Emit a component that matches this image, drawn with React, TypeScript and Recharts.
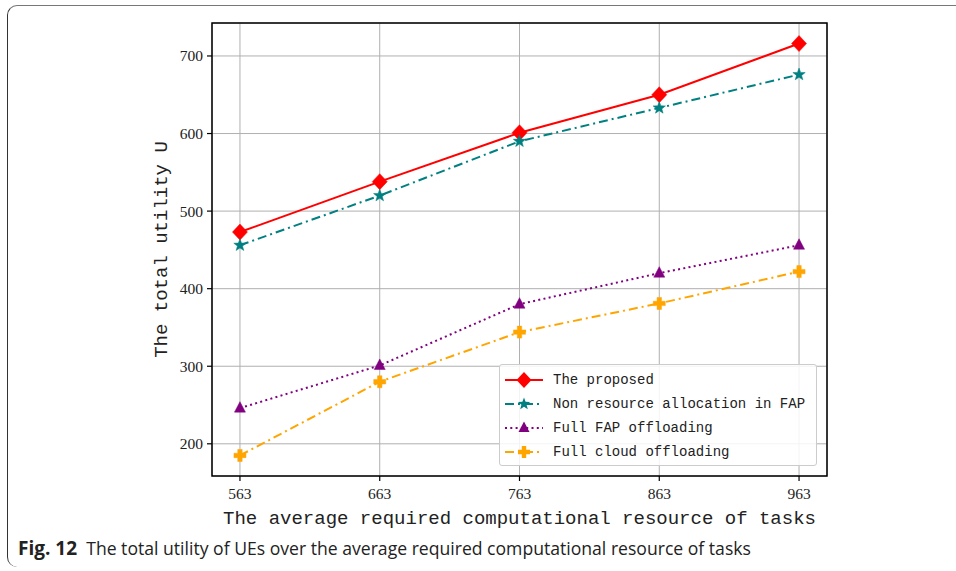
import React from "react";
import {
  LineChart,
  Line,
  XAxis,
  YAxis,
  CartesianGrid,
  Label,
  ReferenceArea,
} from "recharts";

const taskLoads = [563, 663, 763, 863, 963];
const proposed = [473, 538, 601, 650, 716];
const nonResource = [456, 520, 590, 633, 676];
const fullFap = [246, 301, 380, 420, 456];
const fullCloud = [185, 280, 344, 381, 422];
const yTicks = [200, 300, 400, 500, 600, 700];

const data = taskLoads.map((x, i) => ({
  x,
  proposed: proposed[i],
  nonResource: nonResource[i],
  fullFap: fullFap[i],
  fullCloud: fullCloud[i],
}));

const MONO = "'Liberation Mono', 'DejaVu Sans Mono', monospace";
const SERIF = "'Liberation Serif', 'DejaVu Serif', serif";

type Shape = "diamond" | "star" | "triangle" | "plus";

function markerPath(shape: Shape, cx: number, cy: number) {
  if (shape === "diamond") {
    return `M${cx},${cy - 8}L${cx + 7.5},${cy}L${cx},${cy + 8}L${cx - 7.5},${cy}Z`;
  }
  if (shape === "triangle") {
    return `M${cx},${cy - 6.5}L${cx + 5.5},${cy + 4}L${cx - 5.5},${cy + 4}Z`;
  }
  if (shape === "plus") {
    const a = 2.2;
    const b = 6;
    return `M${cx - a},${cy - b}H${cx + a}V${cy - a}H${cx + b}V${cy + a}H${cx + a}V${cy + b}H${cx - a}V${cy + a}H${cx - b}V${cy - a}H${cx - a}Z`;
  }
  // star
  let d = "";
  for (let i = 0; i < 10; i++) {
    const r = i % 2 === 0 ? 6.5 : 2.7;
    const ang = -Math.PI / 2 + (i * Math.PI) / 5;
    d += `${i === 0 ? "M" : "L"}${cx + r * Math.cos(ang)},${cy + r * Math.sin(ang)}`;
  }
  return d + "Z";
}

const series = [
  { key: "proposed", name: "The proposed", color: "#ff0000", dash: undefined, shape: "diamond" as Shape },
  { key: "nonResource", name: "Non resource allocation in FAP", color: "#008080", dash: "9 4 2 4", shape: "star" as Shape },
  { key: "fullFap", name: "Full FAP offloading", color: "#800080", dash: "2 3.3", shape: "triangle" as Shape },
  { key: "fullCloud", name: "Full cloud offloading", color: "#ffa500", dash: "9 4 2 4", shape: "plus" as Shape },
];

const makeDot = (shape: Shape, color: string) => (props: any) => {
  const { cx, cy, index } = props;
  if (cx == null || cy == null) return <g key={`d-${index}`} />;
  return <path key={`d-${shape}-${index}`} d={markerPath(shape, cx, cy)} fill={color} stroke={color} strokeWidth={0.5} />;
};

const LegendBox = () => (
  <div
    style={{
      position: "absolute",
      left: 499,
      top: 364,
      width: 318,
      height: 102,
      boxSizing: "border-box",
      background: "rgba(255,255,255,0.85)",
      border: "1px solid #cccccc",
      borderRadius: 3,
      paddingTop: 3,
      paddingLeft: 4,
    }}
  >
    {series.map((s) => (
      <div key={s.key} style={{ display: "flex", alignItems: "center", height: 24 }}>
        <svg width={44} height={20} style={{ flex: "none" }}>
          <line x1={1} y1={10} x2={39} y2={10} stroke={s.color} strokeWidth={2} strokeDasharray={s.dash} />
          <path d={markerPath(s.shape, 20, 10)} fill={s.color} />
        </svg>
        <span style={{ fontFamily: MONO, fontSize: 14, color: "#222", marginLeft: 5, whiteSpace: "nowrap" }}>
          {s.name}
        </span>
      </div>
    ))}
  </div>
);

export default function App() {
  return (
    <div style={{ position: "absolute", left: 0, top: 0, width: 956, height: 571, background: "#fff", overflow: "hidden" }}>
      <div
        style={{
          position: "absolute",
          left: 7,
          top: 5,
          width: 980,
          height: 562,
          borderTop: "1.5px solid #777",
          borderLeft: "1.5px solid #333",
          borderRadius: "10px 0 0 10px",
          boxSizing: "border-box",
        }}
      />
      <LineChart
        width={956}
        height={571}
        data={data}
        margin={{ top: 23, right: 129, bottom: 65, left: 152 }}
        style={{ position: "absolute", left: 0, top: 0 }}
      >
        <CartesianGrid stroke="#b0b0b0" strokeWidth={1} />
        <ReferenceArea
          x1={543}
          x2={983}
          y1={158.5}
          y2={742.5}
          fill="none"
          stroke="#000"
          strokeWidth={1.5}
          ifOverflow="visible"
        />
        <XAxis
          dataKey="x"
          type="number"
          domain={[543, 983]}
          ticks={taskLoads}
          height={30}
          axisLine={false}
          tickSize={5}
          tickMargin={7}
          tickLine={{ stroke: "#000", strokeWidth: 1.2 }}
          tick={{ fill: "#222", fontFamily: SERIF, fontSize: 15.5 }}
        >
          <Label
            value="The average required computational resource of tasks"
            position="bottom"
            offset={5}
            style={{ fill: "#222", fontFamily: MONO, fontSize: 19 }}
          />
        </XAxis>
        <YAxis
          type="number"
          domain={[158.5, 742.5]}
          ticks={yTicks}
          width={60}
          axisLine={false}
          tickSize={5}
          tickMargin={4}
          tickLine={{ stroke: "#000", strokeWidth: 1.2 }}
          tick={{ fill: "#222", fontFamily: SERIF, fontSize: 15.5 }}
        >
          <Label
            value="The total utility U"
            angle={-90}
            position="insideLeft"
            offset={8}
            style={{ fill: "#222", fontFamily: MONO, fontSize: 19, textAnchor: "middle" }}
          />
        </YAxis>
        {series.map((s) => (
          <Line
            key={s.key}
            dataKey={s.key}
            name={s.name}
            stroke={s.color}
            strokeWidth={2}
            strokeDasharray={s.dash}
            dot={makeDot(s.shape, s.color)}
            activeDot={false}
            isAnimationActive={false}
          />
        ))}
      </LineChart>
      <LegendBox />
      <div
        style={{
          position: "absolute",
          left: 18,
          top: 535,
          fontFamily: "'Open Sans', 'Noto Sans', sans-serif",
          fontSize: 17.6,
          color: "#222",
          whiteSpace: "nowrap",
        }}
      >
        <b style={{ fontSize: 19 }}>Fig. 12</b>&nbsp;&nbsp;The total utility of UEs over the average required computational resource of tasks
      </div>
    </div>
  );
}
